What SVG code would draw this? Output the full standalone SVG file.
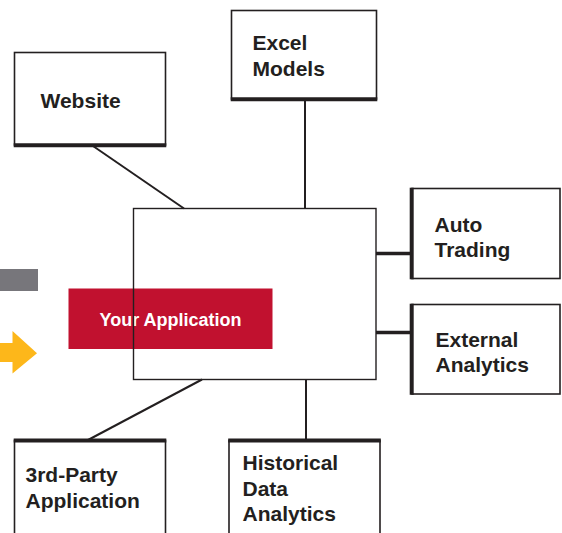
<svg xmlns="http://www.w3.org/2000/svg" width="562" height="533" viewBox="0 0 562 533">
<style>
.box{fill:#fff;stroke:#231f20;stroke-width:1.6}
.thick{stroke:#231f20;stroke-width:4}
.lbl{font-family:"Liberation Sans",Arial,sans-serif;font-weight:bold;font-size:21px;fill:#231f20}
.con{stroke:#231f20;stroke-width:2;fill:none}
.conT{stroke:#231f20;stroke-width:3.5;fill:none}
</style>
<rect width="562" height="533" fill="#fff"/>
<g id="decor">
<rect x="0" y="269" width="38" height="22" fill="#77767b"/>
<polygon points="0,343 12.5,343 12.5,331 37,353.3 12.5,373.5 12.5,362 0,362" fill="#fdb71a"/>
</g>
<g id="connectors">
<line class="con" x1="93" y1="146" x2="184" y2="208.5"/>
<line class="con" x1="305" y1="99" x2="305" y2="208.5"/>
<line class="conT" x1="376" y1="253.5" x2="412" y2="253.5"/>
<line class="conT" x1="376" y1="332.5" x2="412" y2="332.5"/>
<line class="con" x1="202" y1="379.5" x2="88" y2="440"/>
<line class="con" x1="306" y1="379.5" x2="306" y2="440"/>
</g>
<g id="your-application">
<rect x="68.5" y="288.5" width="204" height="60.5" fill="#c1112f"/>
<text x="170.5" y="326" text-anchor="middle" font-family="Liberation Sans,Arial,sans-serif" font-weight="bold" font-size="18" fill="#fff">Your Application</text>
</g>
<g id="main-box">
<rect x="133.5" y="208.5" width="242.5" height="171" fill="none" stroke="#231f20" stroke-width="1.4"/>
</g>
<g id="website">
<rect class="box" x="14.5" y="52.5" width="151" height="92.5"/>
<line class="thick" x1="13.7" y1="145.3" x2="166.3" y2="145.3"/>
<text class="lbl" x="40.5" y="108">Website</text>
</g>
<g id="excel-models">
<rect class="box" x="231.5" y="10.5" width="145" height="88.5"/>
<line class="thick" x1="230.7" y1="99.3" x2="377.3" y2="99.3"/>
<text class="lbl" x="252.5" y="50">Excel</text>
<text class="lbl" x="252.5" y="76">Models</text>
</g>
<g id="auto-trading">
<rect class="box" x="412" y="188.5" width="148" height="90"/>
<line class="thick" x1="411.7" y1="187.7" x2="411.7" y2="279.3"/>
<text class="lbl" x="434.5" y="231.5">Auto</text>
<text class="lbl" x="434.5" y="256.5">Trading</text>
</g>
<g id="external-analytics">
<rect class="box" x="412" y="304.5" width="148" height="89.5"/>
<line class="thick" x1="411.7" y1="303.7" x2="411.7" y2="394.8"/>
<text class="lbl" x="435.5" y="347">External</text>
<text class="lbl" x="435.5" y="372">Analytics</text>
</g>
<g id="third-party">
<rect class="box" x="14.5" y="440.5" width="151" height="110"/>
<line class="thick" x1="13.7" y1="440.5" x2="166.3" y2="440.5"/>
<text class="lbl" x="25.5" y="482">3rd-Party</text>
<text class="lbl" x="25.5" y="507.5">Application</text>
</g>
<g id="historical">
<rect class="box" x="229" y="440.5" width="151" height="110"/>
<line class="thick" x1="228.2" y1="440.5" x2="380.8" y2="440.5"/>
<text class="lbl" x="242.5" y="470">Historical</text>
<text class="lbl" x="242.5" y="495.5">Data</text>
<text class="lbl" x="242.5" y="521">Analytics</text>
</g>
</svg>
